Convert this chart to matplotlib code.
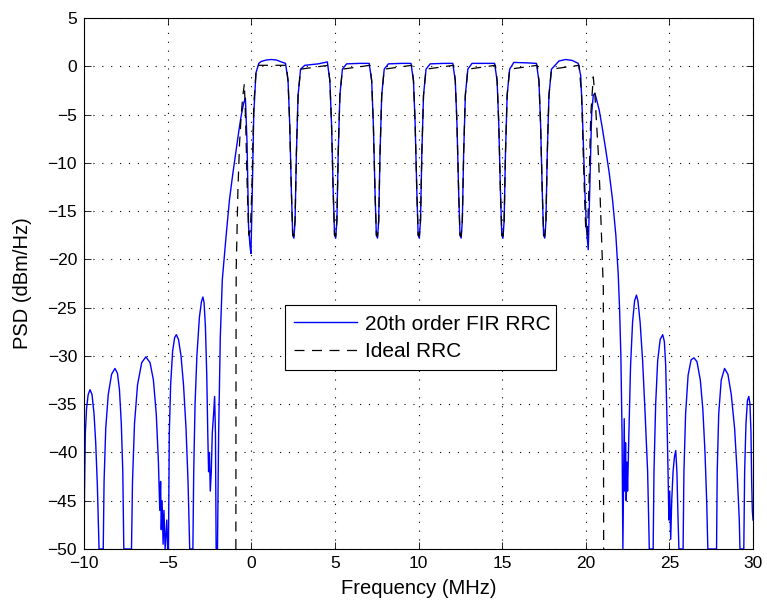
import matplotlib
matplotlib.use("Agg")
import matplotlib.pyplot as plt

# 20th order FIR RRC (blue) as (MHz, dBm/Hz) points
freq_fir = [
    -10.0, -9.97, -9.92, -9.85, -9.75, -9.64, -9.52, -9.4, -9.3, -9.2, -9.13, -9.1,
    -8.85, -8.8, -8.7, -8.55, -8.35, -8.15, -8.0, -7.88, -7.77, -7.68, -7.62,
    -7.16, -7.1, -6.98, -6.8, -6.55, -6.3, -6.05, -5.85, -5.68, -5.55, -5.47,
    -5.42, -5.38, -5.33, -5.27, -5.22, -5.15, -5.05, -5.0,
    -4.95, -4.9, -4.82, -4.7, -4.58, -4.48, -4.35, -4.2, -4.05, -3.9, -3.78, -3.68,
    -3.49, -3.44, -3.36, -3.25, -3.1, -2.98, -2.89, -2.82, -2.74, -2.66, -2.6,
    -2.55, -2.5, -2.45, -2.39, -2.33, -2.25, -2.19, -2.14, -2.1,
    -2.02, -1.95, -1.85, -1.73, -1.5, -1.3, -1.1, -0.9, -0.75, -0.61, -0.45, -0.35,
    -0.25, -0.16, -0.08, -0.02, 0.05, 0.15, 0.28, 0.45,
    0.6, 0.9, 1.2, 1.5, 1.8, 2.05,
    2.2, 2.3, 2.4, 2.48, 2.55, 2.62, 2.7, 2.8, 2.95,
    3.2, 4.0, 4.55,
    4.7, 4.8, 4.9, 4.98, 5.05, 5.12, 5.2, 5.3, 5.45,
    5.7, 6.5, 7.05,
    7.2, 7.3, 7.4, 7.48, 7.55, 7.62, 7.7, 7.8, 7.95,
    8.2, 9.0, 9.55,
    9.7, 9.8, 9.9, 9.98, 10.05, 10.12, 10.2, 10.3, 10.45,
    10.7, 11.5, 12.05,
    12.2, 12.3, 12.4, 12.48, 12.55, 12.62, 12.7, 12.8, 12.95,
    13.2, 14.0, 14.55,
    14.7, 14.8, 14.9, 14.98, 15.05, 15.12, 15.2, 15.3, 15.45,
    15.7, 16.5, 17.05,
    17.2, 17.3, 17.4, 17.48, 17.55, 17.62, 17.7, 17.8, 17.95,
    18.4, 18.8, 19.2, 19.55,
    19.7, 19.8, 19.95, 20.05, 20.15, 20.25, 20.35, 20.45, 20.55,
    20.8, 21.0, 21.2, 21.4, 21.6, 21.8, 21.94, 22.02, 22.1, 22.17, 22.22,
    22.27, 22.3, 22.34, 22.38, 22.42, 22.46, 22.5,
    22.58, 22.68, 22.8, 22.92, 23.03, 23.12, 23.25, 23.4, 23.55, 23.7, 23.8,
    24.03, 24.08, 24.18, 24.3, 24.45, 24.6, 24.7, 24.78, 24.85, 24.92, 24.97,
    25.02, 25.08, 25.14, 25.22, 25.3, 25.38, 25.45, 25.52, 25.57,
    25.82, 25.87, 25.97, 26.12, 26.3, 26.47, 26.65, 26.85, 27.0, 27.13, 27.23, 27.3,
    27.82, 27.86, 27.95, 28.1, 28.3, 28.5, 28.7, 28.9, 29.05, 29.18, 29.22,
    29.45, 29.5, 29.58, 29.67, 29.75, 29.82, 29.88, 29.92, 29.96, 30.0,
]
psd_fir = [
    -50, -44, -38, -35.5, -34, -33.5, -34, -36, -39, -43.5, -48, -50,
    -50, -43, -37.5, -34, -31.9, -31.3, -31.8, -33.5, -37, -42, -50,
    -50, -43, -37, -33, -30.7, -30.1, -30.7, -32.5, -36, -41, -46,
    -43, -48, -45, -49.5, -46, -50, -47, -50,
    -50, -38, -33, -29.5, -28.1, -27.8, -28.3, -30, -33, -37.5, -43, -50,
    -50, -42, -35, -30, -26, -24.4, -23.9, -24.5, -27, -32, -38,
    -42, -40, -44, -42, -38, -36, -34.2, -38, -50,
    -50, -38, -28, -22.1, -17.5, -13.8, -11.1, -8.6, -6.8, -5.2, -3.8, -3.3,
    -8, -16.6, -18.5, -19.4, -14, -5, -0.7, 0.3,
    0.5, 0.65, 0.7, 0.65, 0.45, 0.3,
    -1.5, -6, -13, -17.5, -17.8, -16, -9, -3, -0.3,
    0.1, 0.25, 0.45,
    -1.5, -6, -13, -17.5, -17.8, -16, -9, -3, -0.3,
    0.25, 0.3, 0.3,
    -1.5, -6, -13, -17.5, -17.8, -16, -9, -3, -0.3,
    0.25, 0.3, 0.3,
    -1.5, -6, -13, -17.5, -17.8, -16, -9, -3, -0.3,
    0.25, 0.3, 0.3,
    -1.5, -6, -13, -17.5, -17.8, -16, -9, -3, -0.3,
    0.3, 0.3, 0.3,
    -1.5, -6, -13, -17.5, -17.8, -16, -9, -3, -0.3,
    0.4, 0.35, 0.3,
    -1.5, -6, -13, -17.5, -17.8, -16, -9, -3, -0.3,
    0.55, 0.7, 0.6, 0.3,
    -1, -5, -13, -17, -19, -12, -5, -3, -2.8,
    -4.5, -6.5, -8.7, -11, -13.8, -17.5, -21.5, -25, -30, -38, -50,
    -42, -36.5, -44, -39, -45, -41, -44,
    -38, -31, -26.5, -24.3, -23.7, -24.3, -26.5, -30.5, -36, -42, -50,
    -50, -42, -35, -30.5, -28.3, -27.8, -28.5, -31, -36, -42, -47,
    -44, -49, -45, -42, -40.5, -39.8, -42, -47, -50,
    -50, -42, -36, -32, -30.4, -30.2, -30.6, -32.5, -35.5, -40, -45, -50,
    -50, -42, -36, -32.5, -31.3, -31.9, -34, -37.5, -42, -47, -50,
    -50, -42, -37, -34.6, -34.2, -35, -38, -43, -46, -47,
]

# Ideal RRC (black dashed)
freq_ideal = [
    -0.92, -0.91, -0.9, -0.8, -0.7, -0.6, -0.5, -0.41,
    -0.33, -0.25, -0.15, -0.05, 0.05, 0.15, 0.3, 0.45, 2.1,
    2.2, 2.3, 2.4, 2.48, 2.55, 2.62, 2.7, 2.8, 2.95, 4.6,
    4.7, 4.8, 4.9, 4.98, 5.05, 5.12, 5.2, 5.3, 5.45, 7.1,
    7.2, 7.3, 7.4, 7.48, 7.55, 7.62, 7.7, 7.8, 7.95, 9.6,
    9.7, 9.8, 9.9, 9.98, 10.05, 10.12, 10.2, 10.3, 10.45, 12.1,
    12.2, 12.3, 12.4, 12.48, 12.55, 12.62, 12.7, 12.8, 12.95, 14.6,
    14.7, 14.8, 14.9, 14.98, 15.05, 15.12, 15.2, 15.3, 15.45, 17.1,
    17.2, 17.3, 17.4, 17.48, 17.55, 17.62, 17.7, 17.8, 17.95, 19.6,
    19.75, 19.9, 20.0, 20.1, 20.2, 20.3, 20.45,
    20.55, 20.65, 20.75, 20.85, 20.95, 21.05, 21.06, 21.07,
]
psd_ideal = [
    -50, -30, -21.1, -13, -8, -5, -3, -1.8,
    -6, -12, -17.5, -17, -12, -4, -0.3, 0.1, 0.1,
    -1.5, -6, -13, -17.5, -17.6, -16, -9, -3, -0.3, 0.1,
    -1.5, -6, -13, -17.5, -17.6, -16, -9, -3, -0.3, 0.1,
    -1.5, -6, -13, -17.5, -17.6, -16, -9, -3, -0.3, 0.1,
    -1.5, -6, -13, -17.5, -17.6, -16, -9, -3, -0.3, 0.1,
    -1.5, -6, -13, -17.5, -17.6, -16, -9, -3, -0.3, 0.1,
    -1.5, -6, -13, -17.5, -17.6, -16, -9, -3, -0.3, 0.1,
    -1.5, -6, -13, -17.5, -17.6, -16, -9, -3, -0.3, 0.1,
    -3, -12, -17, -17.5, -12, -5, -1.1,
    -3, -6, -9, -13, -18, -23, -35, -50,
]

xticks = [-10, -5, 0, 5, 10, 15, 20, 25, 30]
yticks = [5, 0, -5, -10, -15, -20, -25, -30, -35, -40, -45, -50]

plt.rcParams["font.family"] = ["Liberation Sans", "DejaVu Sans"]

fig = plt.figure(figsize=(7.67, 6.03), dpi=100)
ax = fig.add_axes([84 / 767, 54 / 603, 669 / 767, 531 / 603])

ax.plot(freq_fir, psd_fir, color="#0000ff", lw=1.0, label="20th order FIR RRC")
ax.plot(freq_ideal, psd_ideal, color="black", lw=0.9, dashes=(8, 6),
        label="Ideal RRC")

ax.set_xlim(-10, 30)
ax.set_ylim(-50, 5)
ax.set_xticks(xticks)
ax.set_yticks(yticks)
ax.set_xticklabels([str(t).replace("-", "\u2212") for t in xticks], fontsize=12.5)
ax.set_yticklabels([str(t).replace("-", "\u2212") for t in yticks], fontsize=12.5)
ax.tick_params(direction="in", top=True, right=True, length=5, width=0.6, pad=5)
ax.grid(True, linestyle=(0, (1, 7)), color="black", lw=0.8)
for s in ax.spines.values():
    s.set_linewidth(0.8)

ax.set_xlabel("Frequency (MHz)", fontsize=14.5, labelpad=6)
ax.set_ylabel("PSD (dBm/Hz)", fontsize=14.5, labelpad=11)

leg = ax.legend(loc="upper left", bbox_to_anchor=(0.300, 0.459, 0.405, 0.0),
                mode="expand", borderaxespad=0, fancybox=False, framealpha=1,
                edgecolor="black", handlelength=3.0, handletextpad=0.4,
                borderpad=0.45, labelspacing=0.4, fontsize=15)
leg.get_frame().set_linewidth(0.8)

fig.savefig("out.png", dpi=100)
